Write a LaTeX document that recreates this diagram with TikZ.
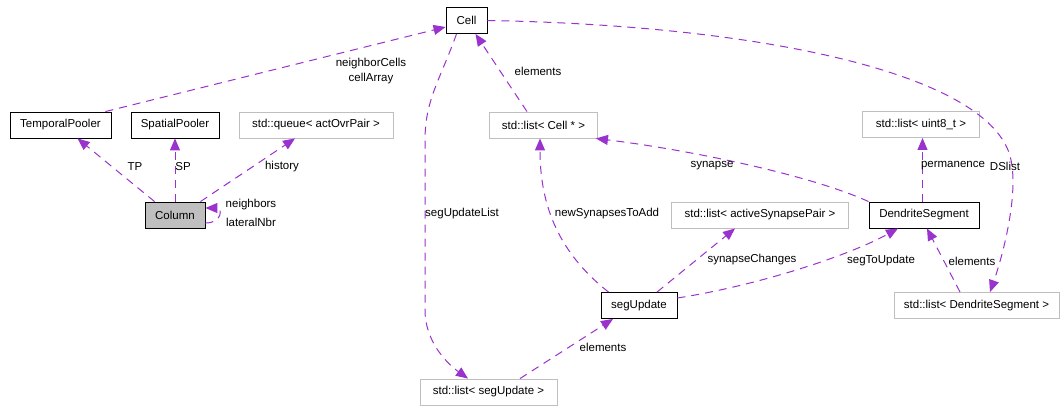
\documentclass[tikz,border=0pt]{standalone}
\usepackage{fontspec}
\setmainfont{Liberation Sans}
\usetikzlibrary{arrows.meta}
\definecolor{edgepurple}{HTML}{9A32CD}
\definecolor{boxgrey}{HTML}{BFBFBF}

\begin{document}
\begin{tikzpicture}[x=1pt,y=-1pt,
  font=\fontsize{11.5}{13}\selectfont,
  cls/.style={draw=black, line width=0.9pt, minimum height=26pt, inner sep=0pt, fill=white},
  ext/.style={draw=boxgrey, line width=0.9pt, minimum height=26pt, inner sep=0pt, fill=white},
  rel/.style={draw=edgepurple, line width=1pt, dash pattern=on 8pt off 6pt,
              -{Triangle[length=12pt,width=10pt,fill=edgepurple]}},
  lbl/.style={inner sep=0pt, align=center}]
\useasboundingbox (0,0) rectangle (1060,408);

% classes and containers
\node[cls, minimum width=41pt]  (cell)  at (466.5,20.5) {Cell};
\node[cls, minimum width=101pt] (tp)    at (60.5,125)  {TemporalPooler};
\node[cls, minimum width=88pt]  (sp)    at (175,125)   {SpatialPooler};
\node[ext, minimum width=154pt] (queue) at (316,125)   {std::queue< actOvrPair >};
\node[cls, minimum width=60pt, fill=boxgrey] (col) at (175,215) {Column};
\node[ext, minimum width=108pt] (lcell) at (543.5,125) {std::list< Cell * >};
\node[ext, minimum width=117pt] (luint) at (921,124.5) {std::list< uint8\_t >};
\node[cls, minimum width=110pt] (ds)    at (924,215)   {DendriteSegment};
\node[ext, minimum width=177pt] (lasp)  at (760,215)   {std::list< activeSynapsePair >};
\node[cls, minimum width=76pt]  (seg)   at (639,305.5) {segUpdate};
\node[ext, minimum width=165pt] (lds)   at (976.5,305.5) {std::list< DendriteSegment >};
\node[ext, minimum width=137pt] (lseg)  at (488.5,392) {std::list< segUpdate >};

% relations
\draw[rel] ([xshift=-6pt]tp.north east) -- ([yshift=-6.5pt]cell.west);
\node[lbl] (l1) at (371,71) {neighborCells\\[2pt]cellArray};

\draw[rel] ([xshift=10pt]col.north west) -- ([xshift=68pt]tp.south west);
\node[lbl] (l2) at (135,167) {TP};

\draw[rel] (col.north) -- (sp.south);
\node[lbl] (l3) at (183,167) {SP};

\draw[rel] ([xshift=-5pt]col.north east) -- ([xshift=-21pt]queue.south);
\node[lbl] (l4) at (282,167) {history};

\draw[rel] ([yshift=-8pt]col.east) .. controls +(17,0) and +(17,0) .. ([yshift=7pt]col.east);
\node[lbl] (l5) at (251,205) {neighbors};
\node[lbl] (l6) at (251,222) {lateralNbr};

\draw[rel] ([xshift=-10pt]cell.south) .. controls (440,80) and (425,100) .. (425,140)
  -- (425,310) .. controls (425,340) and (445,362) .. ([xshift=-20.5pt]lseg.north);
\node[lbl] (l7) at (462,214) {segUpdateList};

\draw[rel] ([xshift=-16.5pt]lcell.north) -- ([xshift=9pt]cell.south);
\node[lbl] (l8) at (538,71) {elements};

\draw[rel] ([xshift=8pt]seg.north west) .. controls (555,250) and (540,200) .. ([xshift=-3.5pt]lcell.south);
\node[lbl] (l9) at (607,214) {newSynapsesToAdd};

\draw[rel] (ds.north west) .. controls (810,175) and (690,150) .. ([xshift=-2pt]lcell.south east);
\node[lbl] (l10) at (712,166) {synapse};

\draw[rel] ([xshift=-1.5pt]ds.north) -- ([xshift=1.5pt]luint.south);
\node[lbl] (l11) at (953,166) {permanence};

\draw[rel] ([xshift=18pt]seg.north) -- ([xshift=-25pt]lasp.south);
\node[lbl] (l12) at (752,260) {synapseChanges};

\draw[rel] ([yshift=7.5pt]seg.east) .. controls (760,285) and (850,255) .. ([xshift=-26pt]ds.south);
\node[lbl] (l13) at (881,261) {segToUpdate};

\draw[rel] ([xshift=-16.5pt]lds.north) -- ([xshift=3pt]ds.south);
\node[lbl] (l14) at (972,261) {elements};

\draw[rel] (cell.east) .. controls (750,25) and (975,70) .. (1008,150)
  .. controls (1022,184) and (1003,255) .. ([xshift=13.5pt]lds.north);
\node[lbl] (l15) at (1005,166) {DSlist};

\draw[rel] ([xshift=31.5pt]lseg.north) -- ([xshift=-26pt]seg.south);
\node[lbl] (l16) at (603,347) {elements};
\end{tikzpicture}
\end{document}
